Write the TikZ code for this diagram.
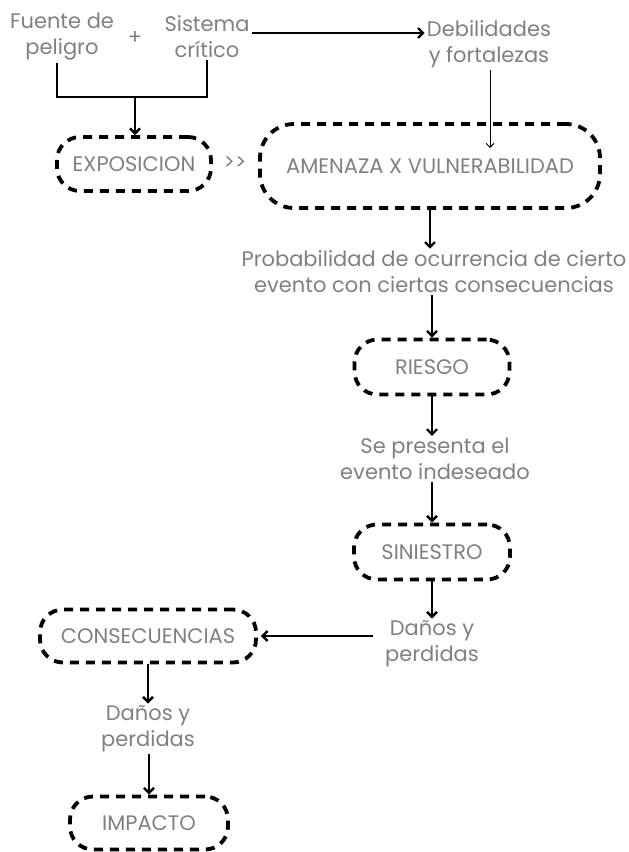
\documentclass[tikz,border=0pt]{standalone}
\usepackage{fontspec}
\setmainfont{Poppins}
\usetikzlibrary{positioning,arrows.meta}

\begin{document}
\begin{tikzpicture}[
  x=1pt, y=-1pt,
  font=\fontsize{21}{26}\selectfont,
  txt/.style={text=black!50, align=center, inner sep=2pt},
  box/.style={draw, line width=3.8pt, dash pattern=on 9pt off 7pt, rounded corners=23pt, text=black!50, inner sep=0pt},
  arr/.style={-{Straight Barb[length=5pt,width=10pt]}, line width=2.4pt},
  ln/.style={line width=2.4pt},
  thinarr/.style={-{Straight Barb[length=4pt,width=8pt]}, line width=0.9pt}
]
\useasboundingbox (0,0) rectangle (629,852);

\node[txt] (fuente) at (62,37) {Fuente de\\peligro};
\node[txt] (sistema) at (207,37) {Sistema\\crítico};
\node[txt] (plus) at (135,38) {+};
\node[txt] (debil) at (489,44) {Debilidades\\y fortalezas};

\node[box, minimum width=154pt, minimum height=54pt] (expo) at (134,164) {EXPOSICION};
\node[txt] (gg) at (235,163) {>{}>};
\node[box, minimum width=340pt, minimum height=84pt, rounded corners=34pt] (amenaza) at (430,166) {AMENAZA X VULNERABILIDAD};

\node[txt] (prob) at (434,272) {Probabilidad de ocurrencia de cierto\\evento con ciertas consecuencias};
\node[box, minimum width=155pt, minimum height=55pt] (riesgo) at (432,367) {RIESGO};
\node[txt] (presenta) at (435,459) {Se presenta el\\evento indeseado};
\node[box, minimum width=156pt, minimum height=55pt] (siniestro) at (432,552) {SINIESTRO};
\node[txt] (danos) at (432,644) {Daños y\\perdidas};

\node[box, minimum width=216pt, minimum height=53pt] (consec) at (148,636) {CONSECUENCIAS};
\node[txt] (danosb) at (148,729) {Daños y\\perdidas};
\node[box, minimum width=158pt, minimum height=53pt] (impacto) at (149,823) {IMPACTO};

\coordinate (join) at (135,97);
\coordinate (vtip) at (490,148);

\draw[ln] ([xshift=-5pt]fuente.south) |- (join) -| (sistema.south);
\draw[arr] (join) -- (expo.north -| join);
\draw[arr] ([yshift=4pt]sistema.east) -- ([yshift=4pt]sistema.east -| debil.west);
\draw[thinarr] (debil.south -| vtip) -- (vtip);
\draw[arr] (amenaza.south) -- (prob.north -| amenaza.south);
\draw[arr] (prob.south -| riesgo.north) -- (riesgo.north);
\draw[arr] (riesgo.south) -- (presenta.north -| riesgo.south);
\draw[arr] (presenta.south -| siniestro.north) -- (siniestro.north);
\draw[arr] (siniestro.south) -- (danos.north -| siniestro.south);
\draw[arr, shorten <=10pt, shorten >=3pt] (danos.west |- consec.east) -- (consec.east);
\draw[arr] (consec.south) -- (danosb.north -| consec.south);
\draw[arr] (danosb.south -| impacto.north) -- (impacto.north);
\end{tikzpicture}
\end{document}
